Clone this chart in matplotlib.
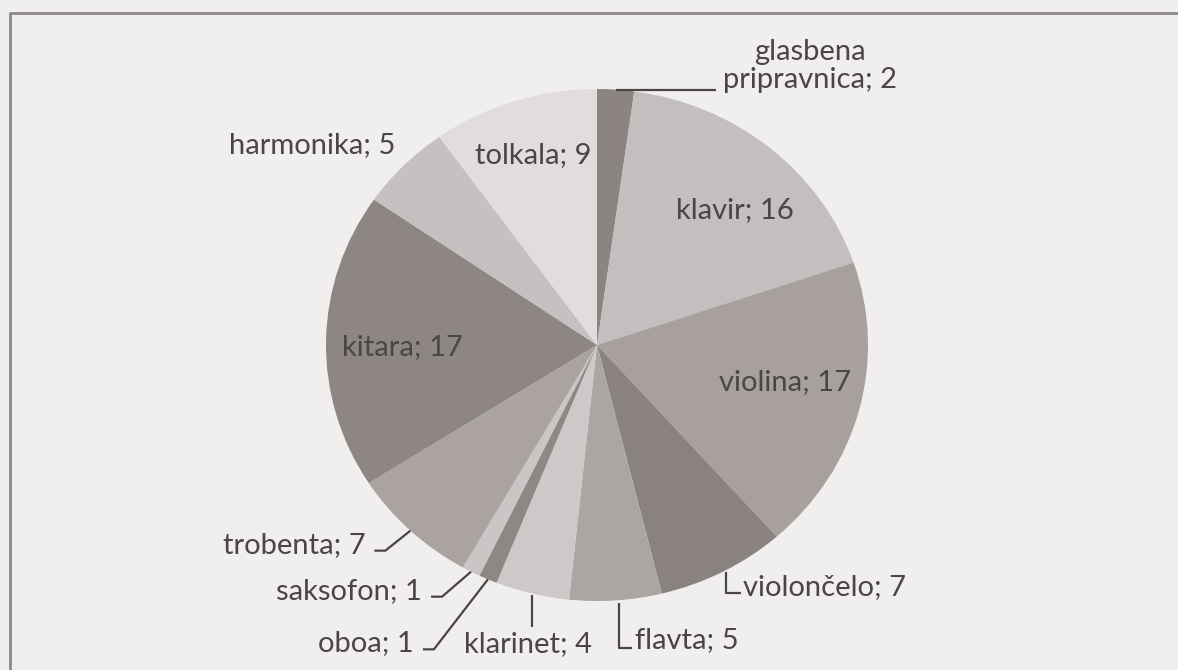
import numpy as np
import matplotlib
matplotlib.use("Agg")
import matplotlib.pyplot as plt

# data (clockwise from 12 o'clock)
instruments = ["glasbena\npripravnica", "klavir", "violina", "violončelo", "flavta",
               "klarinet", "oboa", "saksofon", "trobenta", "kitara", "harmonika", "tolkala"]
counts = [2, 16, 17, 7, 5, 4, 1, 1, 7, 17, 5, 9]
greys = ["#8c8483", "#c3bfbe", "#a7a09f", "#8a8281", "#aba5a4", "#cdc9c8",
         "#8e8786", "#cac6c5", "#aaa3a2", "#8e8685", "#c5c1c0", "#e0dddc"]

W, H = 1178, 670
CX, CY = 597, 345      # pie centre in pixels
RX, RY = 271, 256      # scan is slightly squashed
BG = "#f0efed"
INK = "#4b4545"

plt.rcParams["font.family"] = ["Lato", "DejaVu Sans"]

fig = plt.figure(figsize=(W / 100, H / 100), dpi=100, facecolor=BG)

# overlay axes in pixel coordinates for frame, text and leaders
ov = fig.add_axes([0, 0, 1, 1], zorder=2)
ov.set_xlim(0, W)
ov.set_ylim(H, 0)
ov.axis("off")
ov.patch.set_alpha(0)

pa = fig.add_axes([(CX - RX) / W, (H - CY - RY) / H, 2 * RX / W, 2 * RY / H], zorder=1)
wedges, _ = pa.pie(counts, colors=greys, startangle=90, counterclock=False,
                   radius=1, wedgeprops=dict(linewidth=0))
pa.set_aspect("auto")
pa.set_xlim(-1, 1)
pa.set_ylim(-1, 1)
pa.axis("off")

# frame of the scanned box (only top and left edges visible)
ov.plot([10, 10, W], [H, 13, 13], color="#8d8888", lw=2.0, solid_capstyle="butt")


def rim(w):
    a = np.deg2rad((w.theta1 + w.theta2) / 2)
    return CX + RX * np.cos(a), CY - RY * np.sin(a)


def label(i):
    return f"{instruments[i]}; {counts[i]}"


fs = 21
# labels inside the pie
inside = {1: (735, 210), 2: (785, 382), 9: (402, 347), 11: (533, 155)}
for i, (x, y) in inside.items():
    ov.text(x, y, label(i), ha="center", va="center", fontsize=fs, color=INK)

# harmonika, no leader
ov.text(395, 145, label(10), ha="right", va="center", fontsize=fs, color=INK)

lk = dict(color=INK, lw=1.6, solid_capstyle="butt")

# glasbena pripravnica
x0, y0 = rim(wedges[0])
ov.plot([x0, 716], [y0, y0], **lk)
ov.text(810, 66, label(0), ha="center", va="center", fontsize=fs, color=INK,
        linespacing=1.1)

# violoncelo: L shaped
x0, y0 = rim(wedges[3])
ov.plot([x0 + 3, x0 + 3, x0 + 18], [y0, y0 + 21, y0 + 21], **lk)
ov.text(x0 + 20, y0 + 15, label(3), ha="left", va="center", fontsize=fs, color=INK)

# flavta: L shaped
x0, y0 = rim(wedges[4])
ov.plot([x0 + 3, x0 + 3, x0 + 16], [y0 + 3, y0 + 48, y0 + 48], **lk)
ov.text(x0 + 19, y0 + 40, label(4), ha="left", va="center", fontsize=fs, color=INK)

# klarinet: straight down
x0, y0 = rim(wedges[5])
ov.plot([x0, x0], [y0 + 1, y0 + 33], **lk)
ov.text(x0 - 4, y0 + 50, label(5), ha="center", va="center", fontsize=fs, color=INK)

# oboa, saksofon, trobenta: elbow to the left
for i, (dx, dy) in {6: (-65, 70), 7: (-40, 25), 8: (-36, 20)}.items():
    x0, y0 = rim(wedges[i])
    ex, ey = x0 + dx, y0 + dy
    ov.plot([x0, ex + 11, ex], [y0, ey, ey], **lk)
    ov.text(ex - 9, ey - 6, label(i), ha="right", va="center", fontsize=fs, color=INK)

fig.savefig("out.png", dpi=100, facecolor=BG)
